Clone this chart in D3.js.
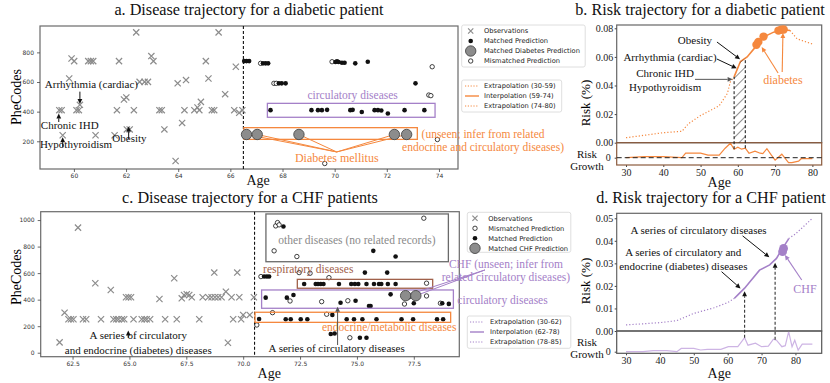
<!DOCTYPE html>
<html>
<head>
<meta charset="utf-8">
<script src="https://cdn.jsdelivr.net/npm/d3@7"></script>
<style>
    body { margin: 0; background: #fff; }
    svg text { font-family: "Liberation Serif", "Times New Roman", serif; }
    .sans text { font-family: "DejaVu Sans", sans-serif; }
</style>
</head>
<body>
<svg id="fig" width="830" height="383"></svg>
<script>
// ---------- panel a: diabetic patient, PheCodes over age ----------
var aObservations = [[62.39,935],[59.91,759],[60.01,741],[60.55,741],[60.65,741],[60.74,741],[61.73,741],[62.97,775],[63.05,741],
    [59.82,624],[62.52,601],[62.71,601],[62.84,601],[60.23,446],[61.92,482],[62.01,496],[59.44,410],[59.53,410],[60.10,410],
    [60.19,410],[61.65,410],[62.30,410],[63.28,410],[63.37,410],[63.47,280],[59.57,241],[60.83,241],[61.56,241],[62.03,280],
    [62.14,280],[65.55,935],[65.06,741],[66.21,703],[63.98,591],[64.30,613],[65.16,624],[65.80,518],[64.87,466],[64.74,428],
    [64.24,410],[64.62,410],[64.81,410],[65.29,410],[65.38,410],[66.15,410],[66.34,392],[66.46,410],[64.15,324],[63.90,67]];
var aMatched = [[66.53,741],[66.62,741],[66.72,741],[67.25,726],[67.35,726],[67.45,726],[67.86,591],[67.97,591],[68.12,591],
    [67.54,410],[70.03,735],[70.09,740],[70.15,735],[70.28,730],[70.38,730],[70.79,726],[71.27,737],[73.10,591],
    [69.11,410],[69.36,410],[69.51,410],[69.71,412],[70.60,410],[70.69,412],[71.04,398],[71.53,410],[71.66,410],
    [71.79,408],[72.04,388],[72.68,410],[73.44,410]];
var aMismatched = [[67.16,726],[67.67,591],[67.76,591],[69.90,737],[73.74,703],[73.61,512],[73.69,508],[69.62,50],[73.94,212]];
var aDiabetes = [[66.62,246],[67.03,246],[68.63,246],[72.29,246],[72.76,246]];
var aXTicks = [60, 62, 64, 66, 68, 70, 72, 74];
var aYTicks = [200, 400, 600, 800];

// ---------- panel b: diabetic patient risk ----------
var bAge = [30, 35, 40, 45, 46.8, 50, 55, 57.2, 58, 59, 60.7, 62.5, 64.3, 65.6, 67.4, 69.6, 72.3, 74, 75.9, 80];
var bRisk = [0.0035, 0.0052, 0.007, 0.008, 0.0134, 0.019, 0.0258, 0.0345, 0.0427, 0.046, 0.0568, 0.060, 0.0656, 0.070,
    0.0745, 0.0773, 0.079, 0.0785, 0.0726, 0.069];
var bGrowthAge = [30, 35, 40, 45, 46, 50, 52, 55, 56.6, 58, 59, 60, 61, 62, 63, 64.6, 66, 66.7, 67.8, 69, 70, 71.8, 73.6, 74.5, 76.3, 77, 80];
var bGrowth = [0, 0.0002, 0.0002, 0, 0.0009, 0.0009, 0.0005, 0.0005, 0.0019, 0.0029, 0.0017, 0.0021, 0.0017, 0.0019, 0.0009,
    0.0013, 0.0009, 0.0008, 0.0018, 0.0005, -0.0005, 0.0007, -0.001, -0.001, -0.0007, -0.0002, -0.0002];
var bDiabetes = [[65.0,0.0685],[65.5,0.0705],[66.9,0.0742],[70.9,0.0784],[71.6,0.0790],[72.3,0.0792]];
var bXTicks = [30, 40, 50, 60, 70, 80];
var bYTicks = [0, 0.02, 0.04, 0.06, 0.08];

// ---------- panel c: CHF patient, PheCodes over age ----------
var cObservations = [[61.93,78],[62.15,302],[62.32,252],[62.43,252],[62.54,252],[62.74,943],[62.96,252],[63.10,252],[63.50,524],
    [63.75,252],[64.18,473],[64.30,252],[64.42,252],[64.52,252],[64.67,252],[64.77,252],[64.85,418],[64.96,418],[65.07,418],
    [65.18,252],[65.54,252],[65.66,252],[65.76,252],[65.91,252],[66.32,405],[66.57,252],[66.97,561],[67.08,252],[67.30,410],
    [67.40,435],[67.52,441],[67.63,435],[67.74,418],[68.07,252],[68.22,418],[68.47,418],[68.61,418],[68.76,418],[68.90,418],
    [69.05,418],[68.73,604],[69.24,460],[69.33,75],[69.49,418],[69.56,252],[69.74,604],[69.83,418],[69.91,252],[70.00,285],
    [70.29,285],[70.47,418]];
var cMismatched = [[71.43,956],[71.51,981],[71.58,964],[71.36,768],[72.36,725],[77.94,1014],[70.78,574],[72.46,604],[72.94,599],
    [73.77,566],[78.06,524],[72.06,390],[73.45,385],[74.60,392],[77.09,367],[78.06,428],[78.67,373],[71.29,302],[73.67,290],
    [74.69,113],[70.60,209]];
var cMatched = [[71.77,951],[75.72,768],[76.70,725],[70.92,574],[71.04,574],[71.14,574],[75.35,604],[76.33,604],
    [72.68,518],[73.19,518],[73.29,518],[73.41,518],[73.53,518],[74.21,518],[74.75,518],[74.91,518],[75.06,518],[75.42,518],
    [75.75,518],[75.97,518],[76.07,518],[76.36,518],[76.70,518],
    [70.99,415],[71.92,415],[72.21,435],[74.28,377],[74.94,392],[75.53,352],[75.60,352],[76.48,440],[77.28,418],[77.43,435],
    [77.50,373],[78.75,373],[79.04,368],
    [70.70,254],[71.87,252],[72.09,252],[72.53,252],[72.82,252],[73.92,285],[74.55,252],[74.87,252],[75.24,252],[75.86,252],
    [76.96,252],[77.47,252],[78.52,252],[78.79,252],[73.85,141],[74.02,145],[75.13,113],[75.42,113]];
var cCHF = [[77.14,430],[77.59,430]];
var cXTicks = [62.5, 65, 67.5, 70, 72.5, 75, 77.5];
var cYTicks = [0, 200, 400, 600, 800, 1000];

// ---------- panel d: CHF patient risk ----------
var dAge = [30, 35, 40, 45, 50, 56, 60, 62, 63, 65, 67, 69.4, 72.4, 74.4, 75.9, 77.8, 78, 80, 85];
var dRisk = [0.0027, 0.0032, 0.0037, 0.0046, 0.0078, 0.0103, 0.0126, 0.0145, 0.016, 0.019, 0.0226, 0.027, 0.0293, 0.0322,
    0.036, 0.0404, 0.041, 0.043, 0.05];
var dGrowthAge = [30, 35, 38, 42, 45, 46.3, 50, 52, 54, 58, 60.2, 63, 65, 66, 68.2, 70, 72, 73.5, 74.4, 76, 77, 78, 79, 79.8, 80.8, 82, 85];
var dGrowth = [0, 0, 0.0002, 0.0002, 0, 0.00066, 0.00066, 0.00034, 0.00046, 0.00046, 0.001, 0.001, 0.0028, 0.0013, 0.0017,
    0.001, 0.0011, 0.0025, 0.0023, 0.001, 0.0012, 0.004, 0.001, 0.0023, 0.0003, 0.0015, 0.0015];
var dCHF = [[76.2,0.0352],[76.5,0.0366]];
var dXTicks = [30, 40, 50, 60, 70, 80];
var dYTicks = [0, 0.01, 0.02, 0.03, 0.04, 0.05];

var orange = "#f5883e", purple = "#a480c8", brown = "#a0604a", grey = "#8c8c8c";

var svg = d3.select("#fig");
var defs = svg.append("defs");
defs.append("pattern").attr("id", "hatch").attr("patternUnits", "userSpaceOnUse")
    .attr("width", 7).attr("height", 7).attr("patternTransform", "rotate(45)")
    .append("line").attr("x1", 0).attr("y1", 0).attr("x2", 0).attr("y2", 7)
    .attr("stroke", "#222").attr("stroke-width", 1);

function txt(g, x, y, s, size, color, anchor) {
    return g.append("text").attr("x", x).attr("y", y).attr("font-size", size)
        .attr("fill", color || "#111").attr("text-anchor", anchor || "middle").text(s);
}

function arrow(g, p1, p2, color, w) {
    var dx = p2[0] - p1[0], dy = p2[1] - p1[1], L = Math.sqrt(dx * dx + dy * dy);
    var ux = dx / L, uy = dy / L, hl = 5, hw = 2.4;
    var bx = p2[0] - ux * hl, by = p2[1] - uy * hl;
    g.append("line").attr("x1", p1[0]).attr("y1", p1[1]).attr("x2", bx).attr("y2", by)
        .attr("stroke", color).attr("stroke-width", w || 1);
    g.append("path").attr("d", "M" + p2[0] + "," + p2[1] + "L" + (bx - uy * hw) + "," + (by + ux * hw) +
        "L" + (bx + uy * hw) + "," + (by - ux * hw) + "Z").attr("fill", color);
}

function xMark(g, cx, cy, s) {
    g.append("path").attr("d", "M" + (cx - s) + "," + (cy - s) + "L" + (cx + s) + "," + (cy + s) +
        "M" + (cx - s) + "," + (cy + s) + "L" + (cx + s) + "," + (cy - s))
        .attr("stroke", grey).attr("stroke-width", 1.2).attr("fill", "none");
}

function dot(g, cx, cy, kind) {
    var c = g.append("circle").attr("cx", cx).attr("cy", cy);
    if (kind == "matched") c.attr("r", 2.3).attr("fill", "#111");
    if (kind == "mismatched") c.attr("r", 2.2).attr("fill", "#fff").attr("stroke", "#111").attr("stroke-width", 0.8);
    if (kind == "big") c.attr("r", 5.2).attr("fill", "#8c8c8c").attr("stroke", "#4a4a4a").attr("stroke-width", 0.9);
}

function legend(g, x0, y0, w, h, items, mx, tx) {
    g.append("rect").attr("x", x0).attr("y", y0).attr("width", w).attr("height", h).attr("rx", 2)
        .attr("fill", "#fff").attr("stroke", "#d5d5d5").attr("stroke-width", 0.8);
    items.forEach(function (it, i) {
        var yy = y0 + 6 + i * 10;
        if (it.kind == "obs") xMark(g, mx, yy, 2.6);
        else if (it.kind == "line") {
            g.append("line").attr("x1", mx - 7).attr("x2", mx + 7).attr("y1", yy).attr("y2", yy)
                .attr("stroke", it.color).attr("stroke-width", it.dash ? 1 : 1.4)
                .attr("stroke-dasharray", it.dash ? "1.2,1.6" : null);
        } else dot(g, mx, yy, it.kind == "big" ? "big" : it.kind);
        g.append("text").attr("class", "lg").attr("x", tx).attr("y", yy).attr("dy", "0.35em")
            .attr("font-size", 6.7).attr("fill", "#222").style("font-family", "DejaVu Sans, sans-serif").text(it.label);
    });
}

function scatterPanel(cfg) {
    var x = d3.scaleLinear().domain(cfg.xDomain).range([cfg.left, cfg.right]);
    var y = d3.scaleLinear().domain(cfg.yDomain).range([cfg.bottom, cfg.top]);
    var g = svg.append("g");
    g.append("rect").attr("x", cfg.left).attr("y", cfg.top).attr("width", cfg.right - cfg.left)
        .attr("height", cfg.bottom - cfg.top).attr("fill", "none").attr("stroke", "#6a6a6a").attr("stroke-width", 1.2);

    var ax = g.append("g").attr("class", "sans").attr("transform", "translate(0," + cfg.bottom + ")")
        .call(d3.axisBottom(x).tickValues(cfg.xTicks).tickFormat(cfg.xFormat).tickSize(3).tickPadding(2));
    var ay = g.append("g").attr("class", "sans").attr("transform", "translate(" + cfg.left + ",0)")
        .call(d3.axisLeft(y).tickValues(cfg.yTicks).tickFormat(d3.format("d")).tickSize(3).tickPadding(3));
    [ax, ay].forEach(function (a) {
        a.select(".domain").remove();
        a.attr("font-size", 6).attr("font-family", "DejaVu Sans, sans-serif");
        a.selectAll("line").attr("stroke", "#444").attr("stroke-width", 0.8);
        a.selectAll("text").attr("fill", "#333");
    });

    g.append("line").attr("x1", x(cfg.cut)).attr("x2", x(cfg.cut)).attr("y1", cfg.top).attr("y2", cfg.bottom)
        .attr("stroke", "#111").attr("stroke-width", 1.1).attr("stroke-dasharray", "3,2");

    g.append("text").attr("transform", "translate(21," + cfg.ylabY + ") rotate(-90)")
        .attr("text-anchor", "middle").attr("font-size", 14).text("PheCodes");
    txt(g, x(cfg.cut) + 3, cfg.ageY, "Age", 14, "#111", "start");
    txt(g, (cfg.left + cfg.right) / 2, cfg.titleY, cfg.title, 16.2);

    cfg.obs.forEach(function (d) { xMark(g, x(d[0]), y(d[1]), 3.1); });
    cfg.mismatched.forEach(function (d) { dot(g, x(d[0]), y(d[1]), "mismatched"); });
    cfg.matched.forEach(function (d) { dot(g, x(d[0]), y(d[1]), "matched"); });
    return { g: g, x: x, y: y };
}

function boxAt(p, a0, c0, a1, c1, color, w) {
    p.g.append("rect").attr("x", p.x(a0)).attr("y", p.y(c0)).attr("width", p.x(a1) - p.x(a0))
        .attr("height", p.y(c1) - p.y(c0)).attr("fill", "none").attr("stroke", color).attr("stroke-width", w || 1.3);
}

// ---------------- panel a ----------------
var pa = scatterPanel({
    left: 40, right: 458, top: 26, bottom: 169, xDomain: [58.7, 74.73], yDomain: [13, 978],
    xTicks: aXTicks, yTicks: aYTicks, xFormat: d3.format("d"), cut: 66.5, ylabY: 97, ageY: 185,
    titleY: 15, title: "a. Disease trajectory for a diabetic patient",
    obs: aObservations, matched: aMatched, mismatched: aMismatched
});
boxAt(pa, 67.42, 456, 73.85, 362, purple);
boxAt(pa, 66.52, 292, 73.17, 213, orange);
txt(pa.g, pa.x(70.69), pa.y(485), "circulatory diseases", 11.5, purple);
aDiabetes.forEach(function (d) {
    pa.g.append("line").attr("x1", pa.x(70.08)).attr("y1", pa.y(128)).attr("x2", pa.x(d[0])).attr("y2", pa.y(d[1]))
        .attr("stroke", orange).attr("stroke-width", 1);
});
aDiabetes.forEach(function (d) { dot(pa.g, pa.x(d[0]), pa.y(d[1]), "big"); });
txt(pa.g, pa.x(70.08), pa.y(60), "Diabetes mellitus", 12, orange);
txt(pa.g, pa.x(75.69), pa.y(222), "(unseen; infer from related", 11.5, orange);
txt(pa.g, pa.x(75.69), pa.y(134), "endocrine and circulatory diseases)", 11.5, orange);
txt(pa.g, pa.x(60.67), pa.y(558), "Arrhythmia (cardiac)", 11);
arrow(pa.g, [pa.x(60.23), pa.y(535)], [pa.x(60.23), pa.y(452)], "#111", 1);
txt(pa.g, pa.x(59.84), pa.y(281), "Chronic IHD", 11);
arrow(pa.g, [pa.x(59.42), pa.y(330)], [pa.x(59.42), pa.y(388)], "#111", 1);
txt(pa.g, pa.x(60.08), pa.y(153), "Hypothyroidism", 11);
arrow(pa.g, [pa.x(59.57), pa.y(162)], [pa.x(59.57), pa.y(228)], "#111", 1);
txt(pa.g, pa.x(62.13), pa.y(197), "Obesity", 11);
arrow(pa.g, [pa.x(62.1), pa.y(215)], [pa.x(62.1), pa.y(300)], "#111", 1);

legend(svg.append("g"), 461.7, 25, 123.5, 42, [
    { kind: "obs", label: "Observations" },
    { kind: "matched", label: "Matched Prediction" },
    { kind: "big", label: "Matched Diabetes Prediction" },
    { kind: "mismatched", label: "Mismatched Prediction" }], 470.7, 484);
legend(svg.append("g"), 461.7, 80, 100, 32, [
    { kind: "line", color: orange, dash: true, label: "Extrapolation (30-59)" },
    { kind: "line", color: orange, dash: false, label: "Interpolation (59-74)" },
    { kind: "line", color: orange, dash: true, label: "Extrapolation (74-80)" }], 472, 484);

// ---------------- panel c ----------------
var pc = scatterPanel({
    left: 40.7, right: 459.3, top: 211.7, bottom: 356.7, xDomain: [61.1, 79.5], yDomain: [-30, 1063],
    xTicks: cXTicks, yTicks: cYTicks, xFormat: d3.format(".1f"), cut: 70.5, ylabY: 277, ageY: 378,
    titleY: 203, title: "c. Disease trajectory for a CHF patients",
    obs: cObservations, matched: cMatched, mismatched: cMismatched
});
boxAt(pc, 71.0, 1046, 79.02, 686, "#6a6a6a", 1.3);
boxAt(pc, 72.38, 553, 78.33, 486, brown, 1.3);
boxAt(pc, 70.81, 473, 79.24, 335, purple, 1.3);
boxAt(pc, 70.52, 305, 79.12, 229, orange, 1.3);
txt(pc.g, pc.x(75.0), pc.y(819), "other diseases (no related records)", 11.5, "#8a8a8a");
txt(pc.g, pc.x(72.86), pc.y(601), "respiratory diseases", 11.5, brown);
txt(pc.g, pc.x(76.42), pc.y(160), "endocrine/metabolic diseases", 11.5, orange);
txt(pc.g, pc.x(74.11), pc.y(2), "A series of circulatory diseases", 11);
arrow(pc.g, [pc.x(74.15), pc.y(58)], [pc.x(74.15), pc.y(347)], "#555", 1);
cCHF.forEach(function (d) {
    pc.g.append("line").attr("x1", pc.x(80.63)).attr("y1", pc.y(624)).attr("x2", pc.x(d[0])).attr("y2", pc.y(d[1]))
        .attr("stroke", purple).attr("stroke-width", 1);
});
cCHF.forEach(function (d) { dot(pc.g, pc.x(d[0]), pc.y(d[1]), "big"); });
txt(pc.g, pc.x(81.55), pc.y(635), "CHF (unseen; infer from", 11.5, purple);
txt(pc.g, pc.x(81.55), pc.y(541), "related circulatory diseases)", 11.5, purple);
txt(pc.g, pc.x(81.4), pc.y(371), "circulatory diseases", 11.5, purple);
txt(pc.g, pc.x(65.39), pc.y(100), "A series of circulatory", 11);
txt(pc.g, pc.x(65.39), pc.y(-6), "and endocrine (diabetes) diseases", 11);
arrow(pc.g, [pc.x(64.95), pc.y(112)], [pc.x(64.95), pc.y(168)], "#111", 1);

legend(svg.append("g"), 467.3, 212.3, 103.5, 40, [
    { kind: "obs", label: "Observations" },
    { kind: "mismatched", label: "Mismatched Prediction" },
    { kind: "matched", label: "Matched Prediction" },
    { kind: "big", label: "Matched CHF Prediction" }], 475, 488.3);
legend(svg.append("g"), 467.3, 316, 103.5, 32.3, [
    { kind: "line", color: purple, dash: true, label: "Extrapolation (30-62)" },
    { kind: "line", color: purple, dash: false, label: "Interpolation (62-78)" },
    { kind: "line", color: purple, dash: true, label: "Extrapolation (78-85)" }], 477, 490);

// ---------------- risk panels ----------------
function riskPanel(cfg) {
    var x = d3.scaleLinear().domain(cfg.xDomain).range([cfg.left, cfg.right]);
    var yR = d3.scaleLinear().domain(cfg.riskDomain).range([cfg.mid, cfg.top]);
    var yG = d3.scaleLinear().domain(cfg.growthDomain).range([cfg.bottom, cfg.mid]);
    var g = svg.append("g");
    var pts = cfg.age.map(function (a, i) { return [a, cfg.risk[i]]; });
    var gpts = cfg.growthAge.map(function (a, i) { return [a, cfg.growth[i]]; });
    var line = d3.line().x(function (d) { return x(d[0]); }).y(function (d) { return yR(d[1]); });
    var gline = d3.line().x(function (d) { return x(d[0]); }).y(function (d) { return yG(d[1]); });

    g.append("rect").attr("x", cfg.left).attr("y", cfg.top).attr("width", cfg.right - cfg.left)
        .attr("height", cfg.mid - cfg.top).attr("fill", "none").attr("stroke", "#666").attr("stroke-width", 1.2);

    var ay = g.append("g").attr("transform", "translate(" + cfg.left + ",0)")
        .call(d3.axisLeft(yR).tickValues(cfg.yTicks).tickFormat(d3.format(".2f")).tickSize(2).tickPadding(1.5));
    var ag = g.append("g").attr("transform", "translate(" + cfg.left + ",0)")
        .call(d3.axisLeft(yG).tickValues([0]).tickFormat(d3.format("d")).tickSize(2).tickPadding(4));
    var ax = g.append("g").attr("transform", "translate(0," + cfg.bottom + ")")
        .call(d3.axisBottom(x).tickValues(cfg.xTicks).tickFormat(d3.format("d")).tickSize(2).tickPadding(1.5));
    [ay, ag, ax].forEach(function (a) {
        a.select(".domain").remove();
        a.attr("font-size", 10).attr("font-family", "Liberation Serif, serif");
        a.selectAll("line").attr("stroke", "#444");
        a.selectAll("text").attr("fill", "#222");
    });

    g.append("path").datum(pts.filter(function (d) { return d[0] <= cfg.s0; })).attr("d", line)
        .attr("fill", "none").attr("stroke", cfg.color).attr("stroke-width", 1.2).attr("stroke-dasharray", "1.2,2");
    g.append("path").datum(pts.filter(function (d) { return d[0] >= cfg.s0 && d[0] <= cfg.s1; })).attr("d", line)
        .attr("fill", "none").attr("stroke", cfg.color).attr("stroke-width", 1.6);
    g.append("path").datum(pts.filter(function (d) { return d[0] >= cfg.s1; })).attr("d", line)
        .attr("fill", "none").attr("stroke", cfg.color).attr("stroke-width", 1.2).attr("stroke-dasharray", "1.2,2");

    g.append("path").datum(gpts).attr("d", gline).attr("fill", "none")
        .attr("stroke", cfg.growthColor).attr("stroke-width", 1.2);
    g.append("rect").attr("x", cfg.left).attr("y", cfg.mid).attr("width", cfg.right - cfg.left)
        .attr("height", cfg.bottom - cfg.mid).attr("fill", "none").attr("stroke", cfg.boxColor).attr("stroke-width", 1.2);

    g.append("text").attr("transform", "translate(" + cfg.ylabX + "," + cfg.ylabY + ") rotate(-90)")
        .attr("text-anchor", "middle").attr("font-size", 13).text("Risk (%)");
    txt(g, 587, cfg.mid + 15, "Risk", 11);
    txt(g, 587, cfg.mid + 27.4, "Growth", 11);
    txt(g, (cfg.left + cfg.right) / 2, cfg.ageY, "Age", 14);
    txt(g, cfg.titleX, cfg.titleY, cfg.title, 16.2);

    return { g: g, x: x, yR: yR, yG: yG, pts: pts,
        riskAt: d3.scaleLinear().domain(cfg.age).range(cfg.risk),
        growthAt: d3.scaleLinear().domain(cfg.growthAge).range(cfg.growth) };
}

// ---------------- panel b ----------------
var pb = riskPanel({
    left: 616.7, right: 821.7, top: 25, mid: 142.7, bottom: 165,
    xDomain: [27.5, 82.5], riskDomain: [0, 0.0823], growthDomain: [-0.00146, 0.003],
    age: bAge, risk: bRisk, growthAge: bGrowthAge, growth: bGrowth, s0: 59, s1: 74,
    color: orange, growthColor: orange, boxColor: "#8b5a3c",
    xTicks: bXTicks, yTicks: bYTicks, ylabX: 590, ylabY: 103, ageY: 186.5,
    titleX: 700, titleY: 15, title: "b. Risk trajectory for a diabetic patient"
});
pb.g.append("line").attr("x1", 616.7).attr("x2", 821.7).attr("y1", pb.yG(0)).attr("y2", pb.yG(0))
    .attr("stroke", "#222").attr("stroke-width", 1).attr("stroke-dasharray", "5,3");
defs.append("clipPath").attr("id", "hatchClip").append("rect")
    .attr("x", pb.x(59)).attr("y", 0).attr("width", pb.x(62) - pb.x(59)).attr("height", 383);
pb.g.append("path").datum(pb.pts)
    .attr("d", d3.area().x(function (d) { return pb.x(d[0]); }).y0(pb.yR(0)).y1(function (d) { return pb.yR(d[1]); }))
    .attr("fill", "url(#hatch)").attr("clip-path", "url(#hatchClip)");
[59, 62].forEach(function (a) {
    pb.g.append("line").attr("x1", pb.x(a)).attr("x2", pb.x(a)).attr("y1", pb.yG(pb.growthAt(a)))
        .attr("y2", pb.yR(pb.riskAt(a))).attr("stroke", "#111").attr("stroke-width", 1).attr("stroke-dasharray", "3,2");
});
bDiabetes.forEach(function (d) {
    pb.g.append("circle").attr("cx", pb.x(d[0])).attr("cy", pb.yR(d[1])).attr("r", 4.2).attr("fill", orange);
});
txt(pb.g, pb.x(48.5), pb.yR(0.069), "Obesity", 11);
arrow(pb.g, [pb.x(54.4), pb.yR(0.0704)], [pb.x(60.6), pb.yR(0.0583)], "#111", 1);
txt(pb.g, pb.x(41.8), pb.yR(0.0571), "Arrhythmia (cardiac)", 11);
arrow(pb.g, [pb.x(54.4), pb.yR(0.0585)], [pb.x(59.7), pb.yR(0.052)], "#111", 1);
txt(pb.g, pb.x(40.5), pb.yR(0.046), "Chronic IHD", 11);
txt(pb.g, pb.x(40.5), pb.yR(0.0362), "Hypothyroidism", 11);
arrow(pb.g, [pb.x(48.5), pb.yR(0.0443)], [pb.x(58.6), pb.yR(0.0443)], "#555", 1);
txt(pb.g, pb.x(72.1), pb.yR(0.041), "diabetes", 12, orange);
arrow(pb.g, [pb.x(71.9), pb.yR(0.0494)], [pb.x(72.1), pb.yR(0.0767)], orange, 1.1);
arrow(pb.g, [pb.x(70.8), pb.yR(0.0487)], [pb.x(66.4), pb.yR(0.0669)], orange, 1.1);

// ---------------- panel d ----------------
var pd = riskPanel({
    left: 616.7, right: 821.7, top: 213.3, mid: 331, bottom: 353.3,
    xDomain: [27.25, 87.75], riskDomain: [0, 0.0522], growthDomain: [-0.00032, 0.00414],
    age: dAge, risk: dRisk, growthAge: dGrowthAge, growth: dGrowth, s0: 62, s1: 78,
    color: purple, growthColor: "#cdb4e4", boxColor: "#555",
    xTicks: dXTicks, yTicks: dYTicks, ylabX: 590, ylabY: 281, ageY: 377.5,
    titleX: 711, titleY: 203, title: "d. Risk trajectory for a CHF patient"
});
[65, 74].forEach(function (a) {
    var y1 = pd.yG(pd.growthAt(a)), y2 = pd.yR(pd.riskAt(a)) + 3;
    pd.g.append("line").attr("x1", pd.x(a)).attr("x2", pd.x(a)).attr("y1", y1).attr("y2", y2 + 5)
        .attr("stroke", "#333").attr("stroke-width", 1.1).attr("stroke-dasharray", "3,2");
    arrow(pd.g, [pd.x(a), y2 + 6], [pd.x(a), y2], "#111", 0.1);
});
dCHF.forEach(function (d) {
    pd.g.append("circle").attr("cx", pd.x(d[0])).attr("cy", pd.yR(d[1])).attr("r", 4.4).attr("fill", purple);
});
txt(pd.g, pd.x(51.4), pd.yR(0.0432), "A series of circulatory diseases", 11);
arrow(pd.g, [pd.x(64.4), pd.yR(0.0422)], [pd.x(72.3), pd.yR(0.0327)], "#111", 1);
txt(pd.g, pd.x(46.9), pd.yR(0.0333), "A series of circulatory and", 11);
txt(pd.g, pd.x(46.9), pd.yR(0.0271), "endocrine (diabetes) diseases", 11);
arrow(pd.g, [pd.x(58.2), pd.yR(0.0263)], [pd.x(63.8), pd.yR(0.0189)], "#111", 1);
txt(pd.g, pd.x(82.8), pd.yR(0.0169), "CHF", 12, purple);
arrow(pd.g, [pd.x(81.85), pd.yR(0.0226)], [pd.x(76.9), pd.yR(0.0337)], purple, 1.1);
</script>
</body>
</html>
